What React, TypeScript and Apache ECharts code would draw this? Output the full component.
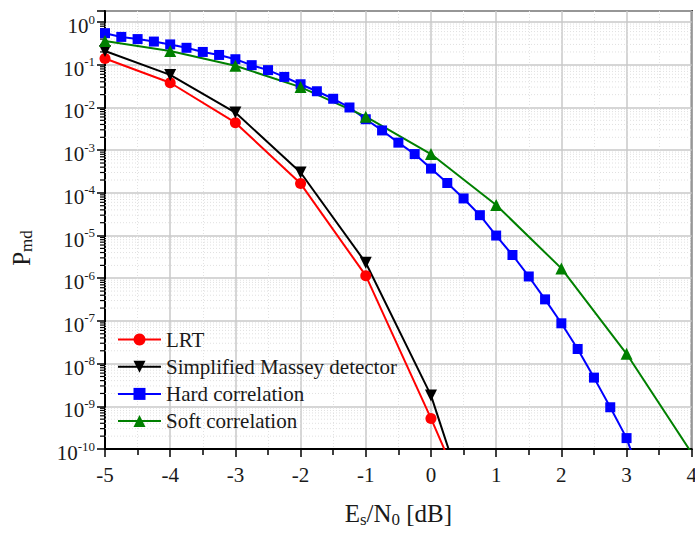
import React, { useEffect, useRef } from 'react';
import * as echarts from 'echarts';

// ---- data ----
const lrtX = [-5, -4, -3, -2, -1, 0, 1];
const lrtP = [0.14, 0.038, 4.4e-3, 1.65e-4, 1.15e-6, 5.2e-10, 1.6e-13];

const masseyX = [-5, -4, -3, -2, -1, 0, 1];
const masseyP = [0.21, 0.058, 7.6e-3, 3.0e-4, 2.3e-6, 1.8e-9, 4e-14];

const hardX = [
  -5, -4.75, -4.5, -4.25, -4, -3.75, -3.5, -3.25, -3, -2.75, -2.5, -2.25, -2, -1.75, -1.5, -1.25,
  -1, -0.75, -0.5, -0.25, 0, 0.25, 0.5, 0.75, 1, 1.25, 1.5, 1.75, 2, 2.25, 2.5, 2.75, 3, 3.25,
];
const hardP = [
  0.55, 0.45, 0.40, 0.35, 0.30, 0.25, 0.20, 0.17, 0.135, 0.098, 0.075, 0.052, 0.035, 0.024, 0.016, 0.010,
  5.3e-3, 2.9e-3, 1.5e-3, 8.1e-4, 3.7e-4, 1.7e-4, 7.4e-5, 3.0e-5, 1.0e-5, 3.5e-6, 1.1e-6, 3.2e-7, 8.8e-8,
  2.2e-8, 4.7e-9, 9.5e-10, 1.8e-10, 1.5e-11,
];

const softX = [-5, -4, -3, -2, -1, 0, 1, 2, 3, 4];
const softP = [0.36, 0.21, 0.095, 0.030, 6.1e-3, 8.1e-4, 5.2e-5, 1.7e-6, 1.7e-8, 8e-11];

const seriesNames = ['LRT', 'Simplified Massey detector', 'Hard correlation', 'Soft correlation'];
const xMin = -5;
const xMax = 4;
const yMinExp = -10;
const yMaxExp = 0.26;
const minorMultipliers = [2, 3, 4, 5, 6, 7, 8, 9];

const FONT = '"Liberation Serif", "Times New Roman", serif';
const INK = '#1a1a1a';

const toLog = (xs: number[], ps: number[]) => xs.map((x, i) => [x, Math.log10(ps[i])]);

export default function App() {
  const ref = useRef<HTMLDivElement>(null);

  useEffect(() => {
    if (!ref.current) return;
    const chart = echarts.init(ref.current, null, { renderer: 'svg' });

    const minorData: number[][] = [];
    for (let d = yMinExp; d < 0; d++) {
      for (const k of minorMultipliers) {
        const v = d + Math.log10(k);
        if (v <= yMaxExp) minorData.push([xMin, v]);
      }
    }

    const lineBase = (name: string, color: string, data: number[][], symbol: string, size: number, rotate = 0) => ({
      name,
      type: 'line',
      data,
      symbol,
      symbolSize: size,
      symbolRotate: rotate,
      showAllSymbol: true,
      clip: true,
      z: 3,
      lineStyle: { color, width: 2 },
      itemStyle: { color },
    });

    const option: any = {
      animation: false,
      backgroundColor: '#ffffff',
      grid: {
        left: 105,
        top: 11,
        width: 592,
        height: 438,
        show: true,
        borderColor: '#000',
        borderWidth: 2,
        backgroundColor: 'transparent',
      },
      legend: {
        orient: 'vertical',
        left: 112,
        top: 324,
        itemWidth: 43,
        itemHeight: 15,
        itemGap: 6.2,
        data: seriesNames,
        textStyle: { fontFamily: FONT, fontSize: 21, color: INK, lineHeight: 20 },
      },
      xAxis: {
        type: 'value',
        min: xMin,
        max: xMax,
        interval: 1,
        name: '{a|E}{b|s}{a|/N}{b|0}{a| [dB]}',
        nameLocation: 'middle',
        nameGap: 50,
        nameTextStyle: {
          rich: {
            a: { fontFamily: FONT, fontSize: 25, color: INK },
            b: { fontFamily: FONT, fontSize: 17, color: INK, padding: [12, 0, 0, 0] },
          },
        },
        axisLine: { show: true, onZero: false, lineStyle: { color: '#000', width: 2 } },
        axisTick: { show: true, length: 8, lineStyle: { color: '#000', width: 1.5 } },
        minorTick: { show: true, splitNumber: 2, length: 6, lineStyle: { color: '#000', width: 1.5 } },
        axisLabel: { fontFamily: FONT, fontSize: 21, color: INK, margin: 15 },
        splitLine: { show: true, lineStyle: { color: '#c8c8c8', width: 1.5 } },
        minorSplitLine: { show: true, lineStyle: { color: '#e2e2e2', width: 1, type: [1, 2] } },
      },
      yAxis: {
        type: 'value',
        min: yMinExp,
        max: yMaxExp,
        interval: 1,
        axisLine: { show: true, onZero: false, lineStyle: { color: '#000', width: 2 } },
        axisTick: { show: true, length: 8, lineStyle: { color: '#000', width: 1.5 } },
        axisLabel: {
          margin: 10,
          formatter: (v: number) => {
            const r = Math.round(v);
            if (Math.abs(v - r) > 1e-6) return '';
            return `{b|10}{s|${r === 0 ? 0 : r}}`;
          },
          rich: {
            b: { fontFamily: FONT, fontSize: 21, color: INK, padding: [8, 0, 0, 0] },
            s: { fontFamily: FONT, fontSize: 13, color: INK, padding: [0, 0, 6, 0] },
          },
        },
        splitLine: { show: true, lineStyle: { color: '#c8c8c8', width: 1.5 } },
      },
      graphic: [
        {
          type: 'text',
          x: 21,
          y: 248,
          rotation: Math.PI / 2,
          style: {
            text: '{a|P}{b|md}',
            align: 'center',
            verticalAlign: 'middle',
            rich: {
              a: { fontFamily: FONT, fontSize: 25, fill: INK, color: INK },
              b: { fontFamily: FONT, fontSize: 17, fill: INK, color: INK, padding: [11, 0, 0, 0] },
            },
          },
        },
      ],
      series: [
        {
          type: 'custom',
          name: 'minor',
          z: 1,
          clip: false,
          silent: true,
          data: minorData,
          renderItem: (params: any, api: any) => {
            const v = api.value(1);
            const p0 = api.coord([xMin, v]);
            const p1 = api.coord([xMax, v]);
            return {
              type: 'group',
              children: [
                {
                  type: 'line',
                  shape: { x1: p0[0], y1: p0[1], x2: p1[0], y2: p1[1] },
                  style: { stroke: '#e0e0e0', lineWidth: 1, lineDash: [1, 2] },
                },
                {
                  type: 'line',
                  shape: { x1: p0[0] - 5, y1: p0[1], x2: p0[0], y2: p0[1] },
                  style: { stroke: '#000', lineWidth: 1.2 },
                },
              ],
            };
          },
        },
        lineBase(seriesNames[0], '#ff0000', toLog(lrtX, lrtP), 'circle', 11),
        lineBase(seriesNames[1], '#000000', toLog(masseyX, masseyP), 'triangle', 12, 180),
        lineBase(seriesNames[2], '#0000ff', toLog(hardX, hardP), 'rect', 10),
        lineBase(seriesNames[3], '#008000', toLog(softX, softP), 'triangle', 12),
      ],
    };

    chart.setOption(option);
    return () => chart.dispose();
  }, []);

  return (
    <div
      style={{
        position: 'fixed',
        left: 0,
        top: 0,
        width: 695,
        height: 534,
        overflow: 'hidden',
        background: '#fff',
      }}
    >
      <div ref={ref} style={{ width: 700, height: 534 }} />
    </div>
  );
}
